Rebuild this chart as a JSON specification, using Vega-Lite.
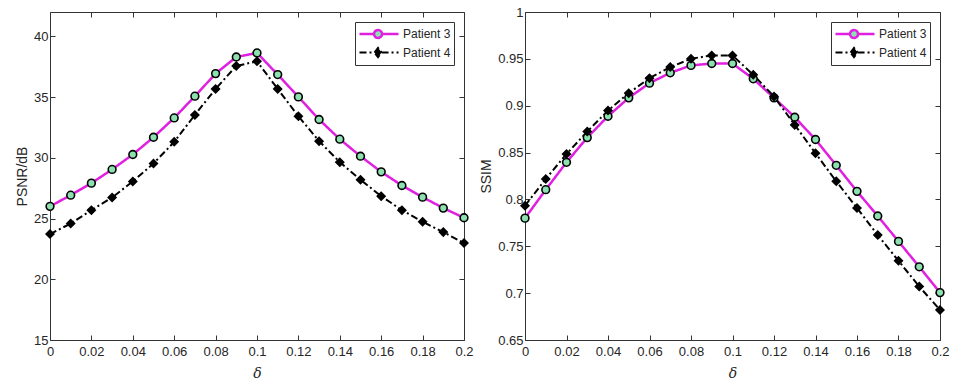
{
  "$schema": "https://vega.github.io/schema/vega-lite/v6.json",
  "padding": {"left": 15, "top": 5, "right": 5, "bottom": 2},
  "background": "white",
  "config": {
    "view": {"stroke": "#333333", "strokeWidth": 1},
    "font": "Liberation Sans",
    "axis": {
      "grid": false, "domain": false, "tickColor": "#333333", "tickSize": -5, "tickWidth": 1,
      "labelFont": "Liberation Sans", "labelFontSize": 13, "labelColor": "#262626",
      "titleFont": "Liberation Sans", "titleFontSize": 14, "titleFontWeight": "normal", "titleColor": "#262626"
    }
  },
  "data": {"values": [
    {"d": 0.00, "p": "Patient 3", "psnr": 26.00, "ssim": 0.7800},
    {"d": 0.01, "p": "Patient 3", "psnr": 26.92, "ssim": 0.8104},
    {"d": 0.02, "p": "Patient 3", "psnr": 27.91, "ssim": 0.8396},
    {"d": 0.03, "p": "Patient 3", "psnr": 29.04, "ssim": 0.8660},
    {"d": 0.04, "p": "Patient 3", "psnr": 30.27, "ssim": 0.8888},
    {"d": 0.05, "p": "Patient 3", "psnr": 31.69, "ssim": 0.9084},
    {"d": 0.06, "p": "Patient 3", "psnr": 33.28, "ssim": 0.9241},
    {"d": 0.07, "p": "Patient 3", "psnr": 35.07, "ssim": 0.9351},
    {"d": 0.08, "p": "Patient 3", "psnr": 36.93, "ssim": 0.9430},
    {"d": 0.09, "p": "Patient 3", "psnr": 38.30, "ssim": 0.9450},
    {"d": 0.10, "p": "Patient 3", "psnr": 38.63, "ssim": 0.9450},
    {"d": 0.11, "p": "Patient 3", "psnr": 36.85, "ssim": 0.9287},
    {"d": 0.12, "p": "Patient 3", "psnr": 35.01, "ssim": 0.9084},
    {"d": 0.13, "p": "Patient 3", "psnr": 33.15, "ssim": 0.8877},
    {"d": 0.14, "p": "Patient 3", "psnr": 31.53, "ssim": 0.8639},
    {"d": 0.15, "p": "Patient 3", "psnr": 30.13, "ssim": 0.8364},
    {"d": 0.16, "p": "Patient 3", "psnr": 28.84, "ssim": 0.8086},
    {"d": 0.17, "p": "Patient 3", "psnr": 27.72, "ssim": 0.7823},
    {"d": 0.18, "p": "Patient 3", "psnr": 26.76, "ssim": 0.7552},
    {"d": 0.19, "p": "Patient 3", "psnr": 25.86, "ssim": 0.7281},
    {"d": 0.20, "p": "Patient 3", "psnr": 25.06, "ssim": 0.7006},
    {"d": 0.00, "p": "Patient 4", "psnr": 23.72, "ssim": 0.7933},
    {"d": 0.01, "p": "Patient 4", "psnr": 24.59, "ssim": 0.8218},
    {"d": 0.02, "p": "Patient 4", "psnr": 25.69, "ssim": 0.8485},
    {"d": 0.03, "p": "Patient 4", "psnr": 26.73, "ssim": 0.8724},
    {"d": 0.04, "p": "Patient 4", "psnr": 28.05, "ssim": 0.8949},
    {"d": 0.05, "p": "Patient 4", "psnr": 29.53, "ssim": 0.9134},
    {"d": 0.06, "p": "Patient 4", "psnr": 31.31, "ssim": 0.9294},
    {"d": 0.07, "p": "Patient 4", "psnr": 33.53, "ssim": 0.9412},
    {"d": 0.08, "p": "Patient 4", "psnr": 35.67, "ssim": 0.9501},
    {"d": 0.09, "p": "Patient 4", "psnr": 37.56, "ssim": 0.9537},
    {"d": 0.10, "p": "Patient 4", "psnr": 37.94, "ssim": 0.9537},
    {"d": 0.11, "p": "Patient 4", "psnr": 35.67, "ssim": 0.9330},
    {"d": 0.12, "p": "Patient 4", "psnr": 33.42, "ssim": 0.9098},
    {"d": 0.13, "p": "Patient 4", "psnr": 31.37, "ssim": 0.8795},
    {"d": 0.14, "p": "Patient 4", "psnr": 29.64, "ssim": 0.8493},
    {"d": 0.15, "p": "Patient 4", "psnr": 28.19, "ssim": 0.8193},
    {"d": 0.16, "p": "Patient 4", "psnr": 26.84, "ssim": 0.7908},
    {"d": 0.17, "p": "Patient 4", "psnr": 25.69, "ssim": 0.7620},
    {"d": 0.18, "p": "Patient 4", "psnr": 24.73, "ssim": 0.7345},
    {"d": 0.19, "p": "Patient 4", "psnr": 23.88, "ssim": 0.7070},
    {"d": 0.20, "p": "Patient 4", "psnr": 22.98, "ssim": 0.6821}
  ]},
  "spacing": 5,
  "resolve": {"scale": {"color": "independent", "strokeDash": "independent", "strokeWidth": "independent"}, "legend": {"color": "independent"}},
  "hconcat": [
    {
      "width": 414, "height": 328,
      "layer": [
        {
          "mark": {"type": "line"},
          "encoding": {
            "x": {"field": "d", "type": "quantitative", "scale": {"domain": [0, 0.2], "nice": false},
                  "axis": {"orient": "bottom", "values": [0, 0.02, 0.04, 0.06, 0.08, 0.1, 0.12, 0.14, 0.16, 0.18, 0.2], "format": ".2~f", "labelPadding": 10, "title": "δ", "titleFont": "DejaVu Serif", "titleFontStyle": "italic", "titleFontSize": 14, "titlePadding": 8, "labelFlush": false}},
            "y": {"field": "psnr", "type": "quantitative", "scale": {"domain": [15, 42], "nice": false, "zero": false},
                  "axis": {"orient": "left", "values": [15, 20, 25, 30, 35, 40], "labelPadding": 7, "title": "PSNR/dB", "titlePadding": 4}},
            "color": {"field": "p", "type": "nominal", "scale": {"domain": ["Patient 3", "Patient 4"], "range": ["#e020e0", "#000000"]},
                      "legend": {
                        "orient": "top-right", "offset": 10, "title": null, "padding": 3, "strokeColor": "#333333", "fillColor": "white",
                        "labelFont": "Liberation Sans", "labelFontSize": 12, "labelColor": "#262626", "labelOffset": 27, "rowPadding": 0,
                        "symbolSize": 225,
                        "symbolType": "M-1,0H0.94M2,0H4.2M0.94,0A0.53,0.53 0 1 1 2,0A0.53,0.53 0 1 1 0.94,0Z",
                        "encode": {"symbols": {"update": {
                          "shape": {"signal": "datum.value === 'Patient 3' ? 'M-1,0H0.94M2,0H4.2M0.94,0A0.53,0.53 0 1 1 2,0A0.53,0.53 0 1 1 0.94,0Z' : 'M-1,0H1M1.94,0H4.2M1,0L1.47,-0.62L1.94,0L1.47,0.62Z'"},
                          "fill": {"signal": "datum.value === 'Patient 3' ? '#8de0b0' : '#000000'"},
                          "strokeDash": {"signal": "datum.value === 'Patient 3' ? [1,0] : [6,3,2,3]"},
                          "strokeWidth": {"signal": "datum.value === 'Patient 3' ? 2.2 : 2"},
                          "opacity": {"value": 1}
                        }}}
                      }},
            "strokeDash": {"field": "p", "type": "nominal", "scale": {"domain": ["Patient 3", "Patient 4"], "range": [[1, 0], [7, 3, 2, 3]]}, "legend": null},
            "strokeWidth": {"field": "p", "type": "nominal", "scale": {"domain": ["Patient 3", "Patient 4"], "range": [2.5, 2]}, "legend": null}
          }
        },
        {
          "mark": {"type": "point", "filled": true, "stroke": "#000000", "strokeWidth": 1.6, "opacity": 1},
          "encoding": {
            "x": {"field": "d", "type": "quantitative", "scale": {"domain": [0, 0.2], "nice": false},
                  "axis": {"orient": "top", "values": [0, 0.02, 0.04, 0.06, 0.08, 0.1, 0.12, 0.14, 0.16, 0.18, 0.2], "labels": false, "title": null}},
            "y": {"field": "psnr", "type": "quantitative", "scale": {"domain": [15, 42], "nice": false, "zero": false},
                  "axis": {"orient": "right", "values": [15, 20, 25, 30, 35, 40], "labels": false, "title": null}},
            "shape": {"condition": {"test": "datum.p === 'Patient 3'", "value": "circle"}, "value": "diamond"},
            "fill": {"condition": {"test": "datum.p === 'Patient 3'", "value": "#8de0b0"}, "value": "#000000"},
            "size": {"condition": {"test": "datum.p === 'Patient 3'", "value": 60}, "value": 60}
          }
        }
      ],
      "resolve": {"axis": {"x": "independent", "y": "independent"}}
    },
    {
      "width": 415, "height": 328,
      "layer": [
        {
          "mark": {"type": "line"},
          "encoding": {
            "x": {"field": "d", "type": "quantitative", "scale": {"domain": [0, 0.2], "nice": false},
                  "axis": {"orient": "bottom", "values": [0, 0.02, 0.04, 0.06, 0.08, 0.1, 0.12, 0.14, 0.16, 0.18, 0.2], "format": ".2~f", "labelPadding": 10, "title": "δ", "titleFont": "DejaVu Serif", "titleFontStyle": "italic", "titleFontSize": 14, "titlePadding": 8, "labelFlush": false}},
            "y": {"field": "ssim", "type": "quantitative", "scale": {"domain": [0.65, 1], "nice": false, "zero": false},
                  "axis": {"orient": "left", "values": [0.65, 0.7, 0.75, 0.8, 0.85, 0.9, 0.95, 1], "format": ".2~f", "labelPadding": 7, "title": "SSIM", "titlePadding": 4}},
            "color": {"field": "p", "type": "nominal", "scale": {"domain": ["Patient 3", "Patient 4"], "range": ["#e020e0", "#000000"]},
                      "legend": {
                        "orient": "top-right", "offset": 10, "title": null, "padding": 3, "strokeColor": "#333333", "fillColor": "white",
                        "labelFont": "Liberation Sans", "labelFontSize": 12, "labelColor": "#262626", "labelOffset": 27, "rowPadding": 0,
                        "symbolSize": 225,
                        "symbolType": "M-1,0H0.94M2,0H4.2M0.94,0A0.53,0.53 0 1 1 2,0A0.53,0.53 0 1 1 0.94,0Z",
                        "encode": {"symbols": {"update": {
                          "shape": {"signal": "datum.value === 'Patient 3' ? 'M-1,0H0.94M2,0H4.2M0.94,0A0.53,0.53 0 1 1 2,0A0.53,0.53 0 1 1 0.94,0Z' : 'M-1,0H1M1.94,0H4.2M1,0L1.47,-0.62L1.94,0L1.47,0.62Z'"},
                          "fill": {"signal": "datum.value === 'Patient 3' ? '#8de0b0' : '#000000'"},
                          "strokeDash": {"signal": "datum.value === 'Patient 3' ? [1,0] : [6,3,2,3]"},
                          "strokeWidth": {"signal": "datum.value === 'Patient 3' ? 2.2 : 2"},
                          "opacity": {"value": 1}
                        }}}
                      }},
            "strokeDash": {"field": "p", "type": "nominal", "scale": {"domain": ["Patient 3", "Patient 4"], "range": [[1, 0], [7, 3, 2, 3]]}, "legend": null},
            "strokeWidth": {"field": "p", "type": "nominal", "scale": {"domain": ["Patient 3", "Patient 4"], "range": [2.5, 2]}, "legend": null}
          }
        },
        {
          "mark": {"type": "point", "filled": true, "stroke": "#000000", "strokeWidth": 1.6, "opacity": 1},
          "encoding": {
            "x": {"field": "d", "type": "quantitative", "scale": {"domain": [0, 0.2], "nice": false},
                  "axis": {"orient": "top", "values": [0, 0.02, 0.04, 0.06, 0.08, 0.1, 0.12, 0.14, 0.16, 0.18, 0.2], "labels": false, "title": null}},
            "y": {"field": "ssim", "type": "quantitative", "scale": {"domain": [0.65, 1], "nice": false, "zero": false},
                  "axis": {"orient": "right", "values": [0.65, 0.7, 0.75, 0.8, 0.85, 0.9, 0.95, 1], "labels": false, "title": null}},
            "shape": {"condition": {"test": "datum.p === 'Patient 3'", "value": "circle"}, "value": "diamond"},
            "fill": {"condition": {"test": "datum.p === 'Patient 3'", "value": "#8de0b0"}, "value": "#000000"},
            "size": {"condition": {"test": "datum.p === 'Patient 3'", "value": 60}, "value": 60}
          }
        }
      ],
      "resolve": {"axis": {"x": "independent", "y": "independent"}}
    }
  ]
}
